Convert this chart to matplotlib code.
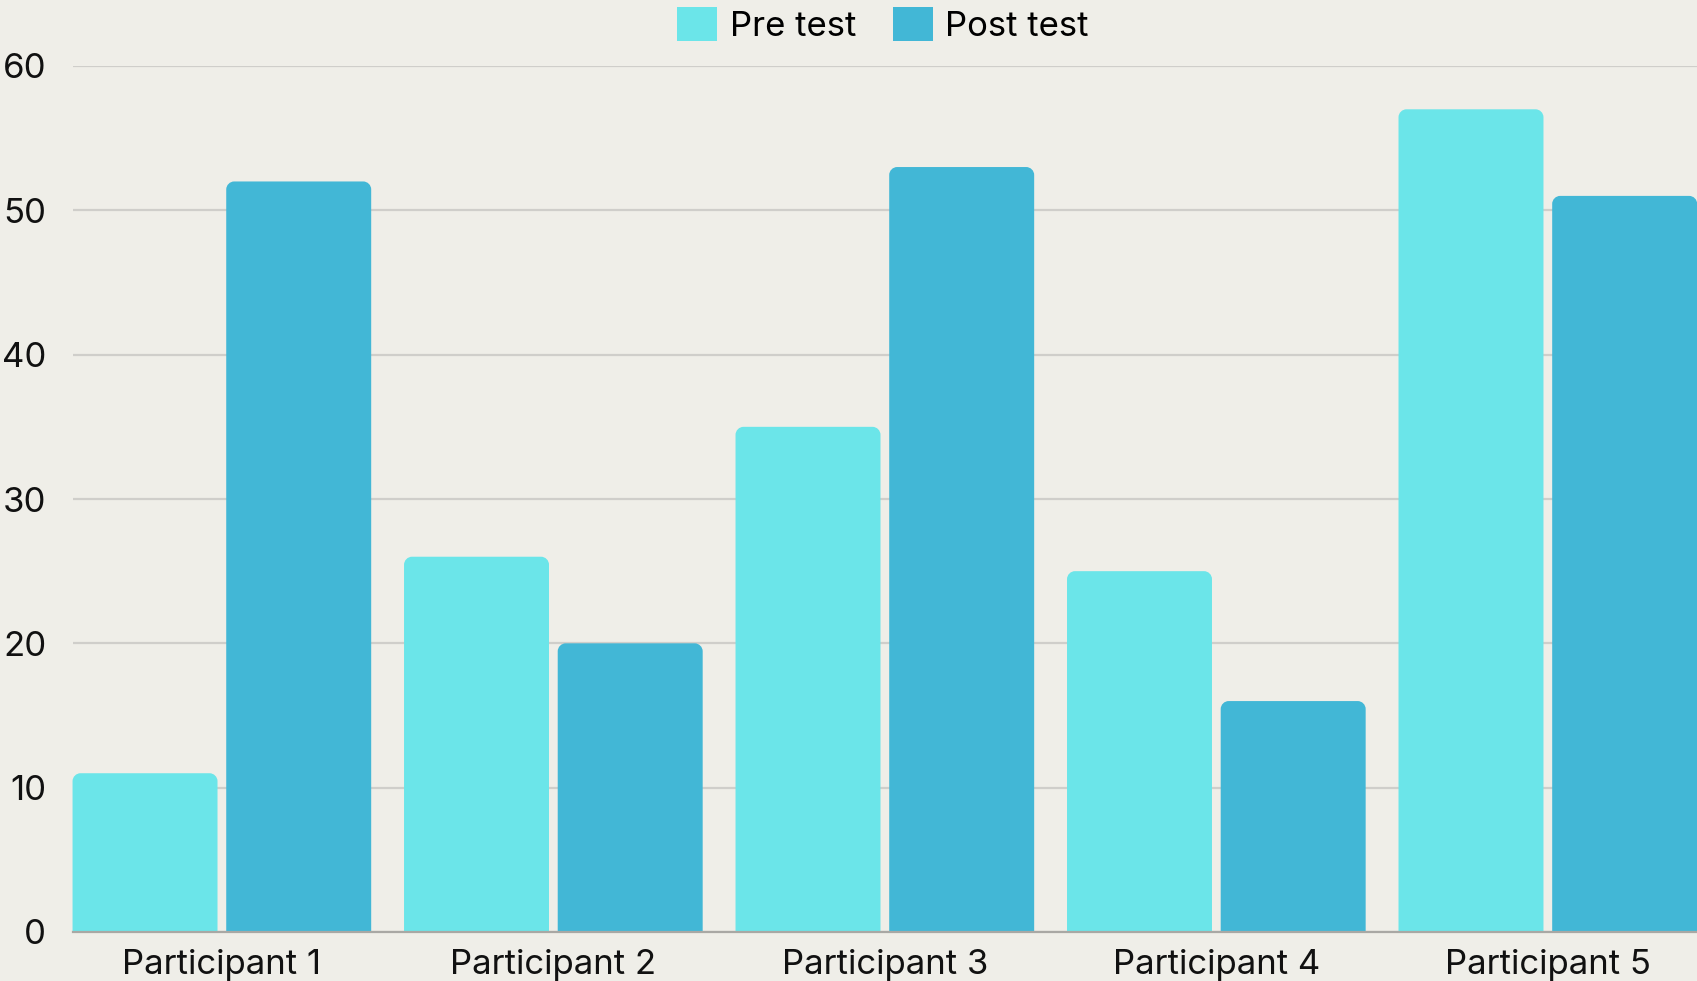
import matplotlib
matplotlib.use("Agg")
import matplotlib.pyplot as plt
from matplotlib.patches import PathPatch
from matplotlib.path import Path

categories = ["Participant 1", "Participant 2", "Participant 3", "Participant 4", "Participant 5"]
pre_test = [11, 26, 35, 25, 57]
post_test = [52, 20, 53, 16, 51]
series_names = ["Pre test", "Post test"]
y_ticks = [0, 10, 20, 30, 40, 50, 60]

PRE_COLOR = "#6BE5E9"
POST_COLOR = "#42B7D6"
BG = "#EFEEE8"

plt.rcParams['font.family'] = ['Inter', 'DejaVu Sans']

W, H = 1697, 981
fig = plt.figure(figsize=(W / 100, H / 100), dpi=100, facecolor=BG)
left = 72.7 / W
bottom = 1 - 932 / H
top = 1 - 66 / H
ax = fig.add_axes([left, bottom, 1 - left, top - bottom])
ax.set_facecolor(BG)

bw = 0.4373
off = 0.2318
x = list(range(len(categories)))
b1 = ax.bar([i - off for i in x], pre_test, width=bw, color=PRE_COLOR, label=series_names[0], zorder=3)
b2 = ax.bar([i + off for i in x], post_test, width=bw, color=POST_COLOR, label=series_names[1], zorder=3)

ax.set_xlim(-0.45, 4.45)
ax.set_ylim(0, 60)

# rounded top corners
px_per_x = (W - 72.7) / 4.9
px_per_y = (932 - 66) / 60
r_px = 8
rx = r_px / px_per_x
ry = r_px / px_per_y
k = 0.5523
for bars in (b1, b2):
    for b in bars:
        x0, y0 = b.get_x(), b.get_y()
        w, h = b.get_width(), b.get_height()
        x1, y1 = x0 + w, y0 + h
        verts = [
            (x0, y0), (x0, y1 - ry),
            (x0, y1 - ry + k * ry), (x0 + rx - k * rx, y1), (x0 + rx, y1),
            (x1 - rx, y1),
            (x1 - rx + k * rx, y1), (x1, y1 - ry + k * ry), (x1, y1 - ry),
            (x1, y0), (x0, y0)
        ]
        codes = [Path.MOVETO, Path.LINETO,
                 Path.CURVE4, Path.CURVE4, Path.CURVE4,
                 Path.LINETO,
                 Path.CURVE4, Path.CURVE4, Path.CURVE4,
                 Path.LINETO, Path.CLOSEPOLY]
        patch = PathPatch(Path(verts, codes), facecolor=b.get_facecolor(),
                          edgecolor='none', zorder=3, clip_on=False)
        ax.add_patch(patch)
        b.set_visible(False)

ax.set_yticks(y_ticks)
ax.set_xticks(x)
ax.set_xticklabels(categories)
ax.yaxis.grid(True, color="#CFCECA", linewidth=1.6, zorder=0)
ax.set_axisbelow(True)
for s in ["top", "right", "left"]:
    ax.spines[s].set_visible(False)
ax.spines["bottom"].set_color("#A9A8A4")
ax.spines["bottom"].set_linewidth(1.6)
ax.spines["bottom"].set_zorder(4)
ax.tick_params(axis='both', length=0, labelsize=25, colors="#111111")
ax.tick_params(axis='y', pad=19)
ax.tick_params(axis='x', pad=12)

leg = fig.legend(handles=[b1, b2], labels=series_names, loc='center',
                 bbox_to_anchor=(883 / W, 1 - 25 / H), ncol=2, frameon=False,
                 fontsize=25, handlelength=1.15, handleheight=1.15,
                 handletextpad=0.36, columnspacing=1.05, borderpad=0, borderaxespad=0)
for h in leg.legend_handles:
    h.set_visible(True)

fig.savefig("out.png", dpi=100, facecolor=BG)
